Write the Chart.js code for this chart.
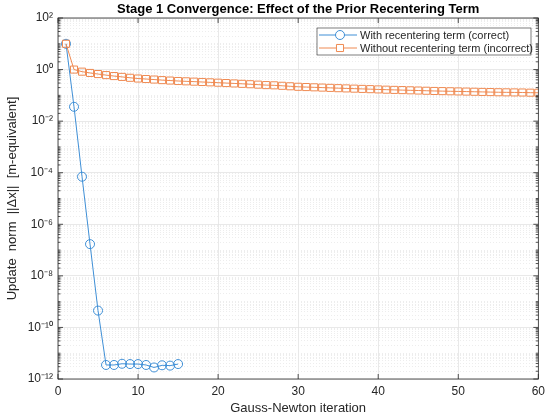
<!DOCTYPE html>
<html>
<head>
<meta charset="utf-8">
<script src="https://cdn.jsdelivr.net/npm/chart.js@4.4.1/dist/chart.umd.min.js"></script>
<style>
    html, body { margin: 0; padding: 0; background: #fff; }
    #box { width: 550px; height: 416px; }
</style>
</head>
<body>
<div id="box"><canvas id="graphique-convergence"></canvas></div>
<script>
// iterations (Gauss-Newton)
const iterAvec = [1, 2, 3, 4, 5, 6, 7, 8, 9, 10, 11, 12, 13, 14, 15];
const normeAvec = [10, 0.036, 7e-5, 1.7e-7, 4.5e-10, 3.5e-12, 3.5e-12, 3.9e-12, 3.8e-12, 3.8e-12,
    3.5e-12, 2.8e-12, 3.4e-12, 3.3e-12, 3.8e-12];

const iterSans = [1, 2, 3, 4, 5, 6, 7, 8, 9, 10, 11, 12, 13, 14, 15, 16, 17, 18, 19, 20,
    21, 22, 23, 24, 25, 26, 27, 28, 29, 30, 31, 32, 33, 34, 35, 36, 37, 38, 39, 40,
    41, 42, 43, 44, 45, 46, 47, 48, 49, 50, 51, 52, 53, 54, 55, 56, 57, 58, 59, 60];
const normeSans = [10, 1.0, 0.83, 0.74, 0.67, 0.61, 0.56, 0.52, 0.48, 0.45,
    0.43, 0.41, 0.39, 0.375, 0.36, 0.35, 0.34, 0.33, 0.32, 0.31,
    0.30, 0.29, 0.28, 0.27, 0.26, 0.25, 0.245, 0.235, 0.225, 0.215,
    0.21, 0.205, 0.20, 0.195, 0.19, 0.186, 0.182, 0.178, 0.174, 0.17,
    0.166, 0.163, 0.16, 0.157, 0.154, 0.151, 0.148, 0.146, 0.144, 0.142,
    0.14, 0.138, 0.136, 0.134, 0.132, 0.131, 0.13, 0.129, 0.127, 0.126];

const labelsSeries = ["With recentering term (correct)", "Without recentering term (incorrect)"];
const titre = "Stage 1 Convergence: Effect of the Prior Recentering Term";

// graduations de l'axe y (puissances paires) et leurs libelles
const yMajeurs = [1e-12, 1e-10, 1e-8, 1e-6, 1e-4, 1e-2, 1e0, 1e2];
const yLibelles = ["10\u207B\u00B9\u00B2", "10\u207B\u00B9\u2070", "10\u207B\u2078", "10\u207B\u2076",
    "10\u207B\u2074", "10\u207B\u00B2", "10\u2070", "10\u00B2"];
const xTicks = [0, 10, 20, 30, 40, 50, 60];

const BLEU = "#3f8fd6";
const ORANGE = "#ef8a52";
const AXE = "#262626";
const POLICE = "'Liberation Sans', Arial, Helvetica, sans-serif";

function estMajeur(v) {
    for (let m of yMajeurs) {
        if (Math.abs(v / m - 1) < 1e-6) return true;
    }
    return false;
}

// titre, cadre + graduations interieures + legende
const cadrePlugin = {
    id: "cadre",
    afterDraw(chart) {
        const ctx = chart.ctx;
        const a = chart.chartArea;
        const sx = chart.scales.x;
        const sy = chart.scales.y;
        ctx.save();

        ctx.fillStyle = "#000";
        ctx.font = "bold 13px " + POLICE;
        ctx.textAlign = "center";
        ctx.textBaseline = "middle";
        ctx.fillText(titre, (a.left + a.right) / 2, 9);

        ctx.strokeStyle = AXE;
        ctx.lineWidth = 0.8;
        ctx.beginPath();
        for (let t of xTicks) {
            const px = sx.getPixelForValue(t);
            ctx.moveTo(px, a.bottom); ctx.lineTo(px, a.bottom - 5);
            ctx.moveTo(px, a.top); ctx.lineTo(px, a.top + 5);
        }
        for (let t of sy.ticks) {
            const py = sy.getPixelForValue(t.value);
            const l = estMajeur(t.value) ? 5 : 2.5;
            ctx.moveTo(a.left, py); ctx.lineTo(a.left + l, py);
            ctx.moveTo(a.right, py); ctx.lineTo(a.right - l, py);
        }
        ctx.stroke();
        ctx.strokeRect(a.left, a.top, a.right - a.left, a.bottom - a.top);

        // legende
        const lx = 317, ly = 28, lw = 214, lh = 27;
        ctx.fillStyle = "#fff";
        ctx.fillRect(lx, ly, lw, lh);
        ctx.lineWidth = 0.6;
        ctx.strokeStyle = AXE;
        ctx.strokeRect(lx, ly, lw, lh);
        const lignes = [
            { y: ly + 7, couleur: BLEU, style: "circle", r: 4.5 },
            { y: ly + 20, couleur: ORANGE, style: "rect", r: 5 }
        ];
        ctx.textAlign = "left";
        for (let i = 0; i < lignes.length; i++) {
            const L = lignes[i];
            ctx.strokeStyle = L.couleur;
            ctx.lineWidth = 1;
            ctx.beginPath();
            ctx.moveTo(lx + 2, L.y); ctx.lineTo(lx + 40, L.y);
            ctx.stroke();
            ctx.fillStyle = "#fff";
            Chart.helpers.drawPoint(ctx, { pointStyle: L.style, radius: L.r, borderWidth: 1 }, lx + 23, L.y);
            ctx.fillStyle = AXE;
            ctx.font = "11px " + POLICE;
            ctx.fillText(labelsSeries[i], lx + 43, L.y + 0.5);
        }
        ctx.restore();
    }
};

const data = {
    datasets: [{
        label: labelsSeries[0],
        data: iterAvec.map((x, i) => ({ x: x, y: normeAvec[i] })),
        borderColor: BLEU,
        backgroundColor: "rgba(0,0,0,0)",
        borderWidth: 1,
        pointStyle: "circle",
        pointRadius: 4.5,
        pointBorderWidth: 1,
        order: 2
    }, {
        label: labelsSeries[1],
        data: iterSans.map((x, i) => ({ x: x, y: normeSans[i] })),
        borderColor: ORANGE,
        backgroundColor: "rgba(0,0,0,0)",
        borderWidth: 1,
        pointStyle: "rect",
        pointRadius: 5,
        pointBorderWidth: 1,
        order: 1
    }]
};

const config = {
    type: "line",
    data: data,
    options: {
        responsive: true,
        maintainAspectRatio: false,
        animation: false,
        layout: { padding: { left: 0, right: 10, top: 18, bottom: 0 } },
        plugins: {
            legend: { display: false },
            tooltip: { enabled: false },
            title: { display: false }
        },
        scales: {
            x: {
                type: "linear",
                min: 0,
                max: 60,
                afterBuildTicks: (scale) => { scale.ticks = xTicks.map(v => ({ value: v })); },
                afterFit: (scale) => { scale.height = 37; },
                ticks: { color: AXE, font: { family: POLICE, size: 12 }, padding: 5 },
                grid: { color: "#e3e3e3", lineWidth: 0.8, drawTicks: false },
                border: { display: false },
                title: {
                    display: true,
                    text: "Gauss-Newton iteration",
                    color: AXE,
                    font: { family: POLICE, size: 13 },
                    padding: { top: 0, bottom: 0 }
                }
            },
            y: {
                type: "logarithmic",
                min: 1e-12,
                max: 1e2,
                afterBuildTicks: (scale) => {
                    const t = [];
                    for (let e = -12; e < 2; e++) {
                        for (let s = 1; s < 10; s++) {
                            t.push({ value: s * Math.pow(10, e) });
                        }
                    }
                    t.push({ value: 1e2 });
                    scale.ticks = t;
                },
                afterFit: (scale) => { scale.width = 58; },
                ticks: {
                    autoSkip: false,
                    color: AXE,
                    font: { family: POLICE, size: 12 },
                    padding: 5,
                    callback: function (v) {
                        for (let i = 0; i < yMajeurs.length; i++) {
                            if (Math.abs(v / yMajeurs[i] - 1) < 1e-6) return yLibelles[i];
                        }
                        return "";
                    }
                },
                grid: {
                    drawTicks: false,
                    lineWidth: 0.8,
                    color: (c) => (c.tick && estMajeur(c.tick.value)) ? "#e3e3e3" : "#e9e9e9"
                },
                border: {
                    display: false,
                    dash: (c) => (c.tick && estMajeur(c.tick.value)) ? [] : [1, 2]
                },
                title: {
                    display: true,
                    text: "Update  norm  ||\u0394x||  [m-equivalent]",
                    color: AXE,
                    font: { family: POLICE, size: 13 },
                    padding: { top: 5, bottom: 0 }
                }
            }
        }
    },
    plugins: [cadrePlugin]
};

new Chart(document.querySelector("#graphique-convergence"), config);
</script>
</body>
</html>
